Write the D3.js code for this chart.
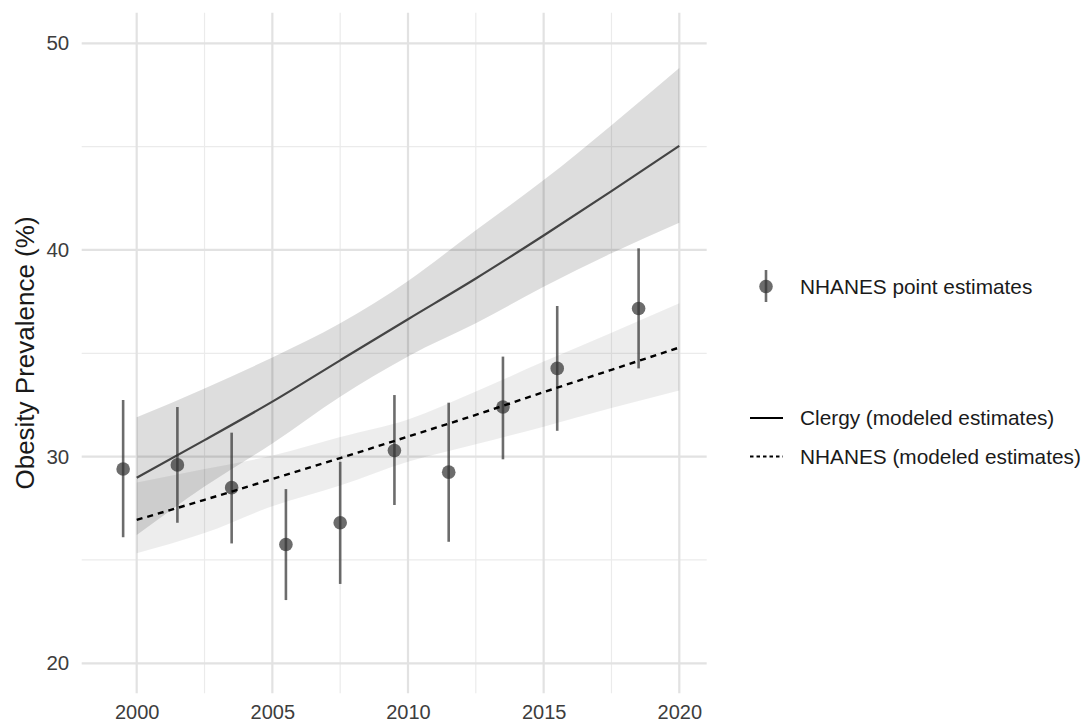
<!DOCTYPE html>
<html>
<head>
<meta charset="utf-8">
<script src="https://cdn.jsdelivr.net/npm/d3@7"></script>
<style>
  html, body { margin: 0; padding: 0; background: #ffffff; }
  svg { display: block; font-family: "Liberation Sans", Arial, Helvetica, sans-serif; }
</style>
</head>
<body>
<svg id="chart" width="1083" height="724"></svg>
<script>
// Survey years of the NHANES point estimates (cycle midpoints)
const surveyYears = [1999.5, 2001.5, 2003.5, 2005.5, 2007.5, 2009.5, 2011.5, 2013.5, 2015.5, 2018.5];
const nhanesPoint = [29.4, 29.6, 28.5, 25.75, 26.8, 30.3, 29.25, 32.4, 34.27, 37.17];
const nhanesLower = [26.1, 26.8, 25.8, 23.06, 23.84, 27.66, 25.88, 29.87, 31.25, 34.27];
const nhanesUpper = [32.74, 32.4, 31.16, 28.43, 29.75, 32.98, 32.61, 34.84, 37.29, 40.08];

// Modeled trends, read at 2.5-year steps
const modelYears = [2000, 2002.5, 2005, 2007.5, 2010, 2012.5, 2015, 2017.5, 2020];
const clergyFit = [28.98, 30.8, 32.66, 34.66, 36.65, 38.62, 40.7, 42.85, 45.04];
const clergyLow = [26.21, 28.55, 30.64, 32.9, 34.85, 36.45, 38.22, 39.84, 41.32];
const clergyHigh = [31.9, 33.3, 34.8, 36.45, 38.5, 40.96, 43.38, 46.04, 48.8];
const nhanesFit = [26.94, 27.91, 28.92, 29.93, 30.97, 32.02, 33.12, 34.2, 35.28];
const nhanesLow = [25.32, 26.3, 27.6, 28.6, 29.75, 30.6, 31.45, 32.35, 33.2];
const nhanesHigh = [28.75, 29.4, 30.05, 30.95, 31.8, 33.15, 34.6, 36.0, 37.42];

// Axis ticks
const xMajor = [2000, 2005, 2010, 2015, 2020];
const xMinor = [2002.5, 2007.5, 2012.5, 2017.5];
const yMajor = [20, 30, 40, 50];
const yMinor = [25, 35, 45];

const legendPointLabel = "NHANES point estimates";
const legendLineLabels = ["Clergy (modeled estimates)", "NHANES (modeled estimates)"];
const yTitle = "Obesity Prevalence (%)";

const svg = d3.select("#chart");

const panel = { left: 81.7, right: 706.7, top: 12.7, bottom: 693.3 };

const x = d3.scaleLinear().domain([2000, 2020]).range([136.7, 679.3]);
const y = d3.scaleLinear().domain([20, 50]).range([663.3, 43.3]);

const grid = svg.append("g").attr("class", "grid");
// minor grid
grid.selectAll(".xminor").data(xMinor).join("line")
  .attr("x1", d => x(d)).attr("x2", d => x(d))
  .attr("y1", panel.top).attr("y2", panel.bottom)
  .attr("stroke", "#ebebeb").attr("stroke-width", 1.2);
grid.selectAll(".yminor").data(yMinor).join("line")
  .attr("class", "yminor")
  .attr("y1", d => y(d)).attr("y2", d => y(d))
  .attr("x1", panel.left).attr("x2", panel.right)
  .attr("stroke", "#ebebeb").attr("stroke-width", 1.2);
// major grid
grid.selectAll(".xmajor").data(xMajor).join("line")
  .attr("class", "xmajor")
  .attr("x1", d => x(d)).attr("x2", d => x(d))
  .attr("y1", panel.top).attr("y2", panel.bottom)
  .attr("stroke", "#e2e2e2").attr("stroke-width", 2.2);
grid.selectAll(".ymajor").data(yMajor).join("line")
  .attr("class", "ymajor")
  .attr("y1", d => y(d)).attr("y2", d => y(d))
  .attr("x1", panel.left).attr("x2", panel.right)
  .attr("stroke", "#e2e2e2").attr("stroke-width", 2.2);

// confidence ribbons
const clergyBand = modelYears.map((yr, i) => ({ yr, lo: clergyLow[i], hi: clergyHigh[i] }));
const nhanesBand = modelYears.map((yr, i) => ({ yr, lo: nhanesLow[i], hi: nhanesHigh[i] }));
const band = d3.area().curve(d3.curveMonotoneX)
  .x(d => x(d.yr)).y0(d => y(d.lo)).y1(d => y(d.hi));

svg.append("path").datum(clergyBand).attr("d", band)
  .attr("fill", "#000").attr("fill-opacity", 0.135);
svg.append("path").datum(nhanesBand).attr("fill", "#000").attr("fill-opacity", 0.07)
  .attr("d", band);

// fitted lines
const fitLine = d3.line().curve(d3.curveMonotoneX).x(d => x(d.yr)).y(d => y(d.v));
svg.append("path")
  .datum(modelYears.map((yr, i) => ({ yr, v: clergyFit[i] })))
  .attr("d", fitLine).attr("fill", "none")
  .attr("stroke", "#444444").attr("stroke-width", 2.2);

// error bars and points
const pts = surveyYears.map((yr, i) => ({ yr, v: nhanesPoint[i], lo: nhanesLower[i], hi: nhanesUpper[i] }));
svg.append("g").selectAll("line").data(pts).join("line")
  .attr("x1", d => x(d.yr)).attr("x2", d => x(d.yr))
  .attr("y1", d => y(d.lo)).attr("y2", d => y(d.hi))
  .attr("stroke", "#333333").attr("stroke-opacity", 0.72).attr("stroke-width", 2.6);
svg.append("g").selectAll("circle").data(pts).join("circle")
  .attr("cx", d => x(d.yr)).attr("cy", d => y(d.v)).attr("r", 6.8)
  .attr("fill", "#333333").attr("fill-opacity", 0.72);

svg.append("path")
  .datum(modelYears.map((yr, i) => ({ yr, v: nhanesFit[i] })))
  .attr("d", fitLine).attr("fill", "none")
  .attr("stroke", "#000000").attr("stroke-width", 2.4)
  .attr("stroke-dasharray", "6,5");

// axes (labels only)
const xAxis = svg.append("g")
  .attr("transform", `translate(0,${panel.bottom})`)
  .call(d3.axisBottom(x).tickValues(xMajor).tickFormat(d3.format("d")).tickSize(0));
const yAxis = svg.append("g")
  .attr("transform", `translate(${panel.left},0)`)
  .call(d3.axisLeft(y).tickValues(yMajor).tickSize(0).tickPadding(12.5));
[xAxis, yAxis].forEach(g => {
  g.select(".domain").remove();
  g.selectAll("text").attr("font-size", 20.5).attr("fill", "#3d3d3d")
    .attr("font-family", "Liberation Sans, Arial, sans-serif");
});
xAxis.selectAll("text").attr("font-size", 20).attr("y", 25.8).attr("dy", 0);

svg.append("text")
  .attr("transform", `translate(34,${(panel.top + panel.bottom) / 2}) rotate(-90)`)
  .attr("text-anchor", "middle")
  .attr("font-size", 26).attr("fill", "#1a1a1a")
  .text(yTitle);

// legend
const lg = svg.append("g");
lg.append("line").attr("x1", 766).attr("x2", 766).attr("y1", 270).attr("y2", 302)
  .attr("stroke", "#333").attr("stroke-opacity", 0.72).attr("stroke-width", 2.6);
lg.append("circle").attr("cx", 766).attr("cy", 286.5).attr("r", 6.8)
  .attr("fill", "#333").attr("fill-opacity", 0.72);
lg.append("text").attr("x", 800).attr("y", 286.5).attr("dy", "0.35em")
  .attr("font-size", 20.8).attr("fill", "#1a1a1a").text(legendPointLabel);

const lineKeys = [
  { y: 418, dash: null, color: "#000" },
  { y: 456.5, dash: "3.5,3", color: "#000" }
];
lineKeys.forEach((k, i) => {
  lg.append("line").attr("x1", 750).attr("x2", 783).attr("y1", k.y).attr("y2", k.y)
    .attr("stroke", k.color).attr("stroke-width", 2.2)
    .attr("stroke-dasharray", k.dash);
  lg.append("text").attr("x", 800).attr("y", k.y).attr("dy", "0.35em")
    .attr("font-size", 20.8).attr("fill", "#1a1a1a").text(legendLineLabels[i]);
});
</script>
</body>
</html>
